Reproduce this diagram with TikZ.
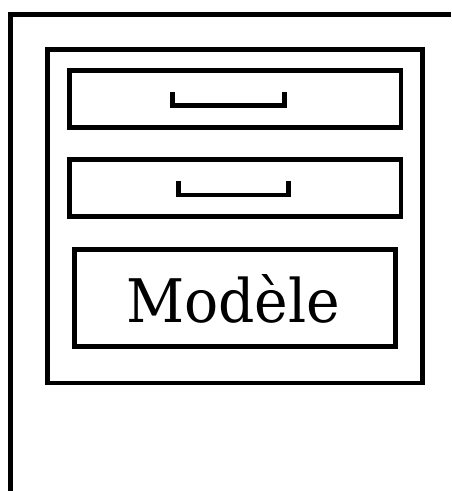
\documentclass[tikz,border=0pt]{standalone}
\usepackage{fontspec}
\usepackage{graphicx}
\setmainfont{DejaVu Serif}
\begin{document}
\begin{tikzpicture}[x=1pt,y=-1pt,
  thick line/.style={line width=4.8pt},
  boxline/.style={draw, thick line, rectangle, inner sep=0pt},
  handle/.style={thick line, line join=miter}]
\useasboundingbox (0,0) rectangle (451,491);
% outer frame
\coordinate (fbl) at (10.5,491);
\coordinate (ftl) at (10.5,14.5);
\coordinate (ftr) at (451,14.5);
\draw[thick line] (fbl) -- (ftl) -- (ftr);
% cabinet
\node[boxline, minimum width=375pt, minimum height=333.5pt] (cabinet) at (235,216.25) {};
% drawers
\node[boxline, minimum width=331.5pt, minimum height=57pt] (drawer1) at (235.25,99) {};
\node[boxline, minimum width=331.5pt, minimum height=57pt] (drawer2) at (235.25,188) {};
% handles
\coordinate (h1a) at (172.5,92);
\coordinate (h1b) at (284.5,92);
\draw[handle] (h1a) |- (228.5,105.5) -| (h1b);
\coordinate (h2a) at (178.5,181);
\coordinate (h2b) at (288.5,181);
\draw[handle] (h2a) |- (233.5,195) -| (h2b);
% model label box
\node[boxline, minimum width=321pt, minimum height=97pt] (model) at (235,298) {};
\node[anchor=base, inner sep=0pt] (label) at (233,322) {\resizebox{214pt}{48pt}{\fontsize{64}{64}\selectfont Modèle}};
\end{tikzpicture}
\end{document}
